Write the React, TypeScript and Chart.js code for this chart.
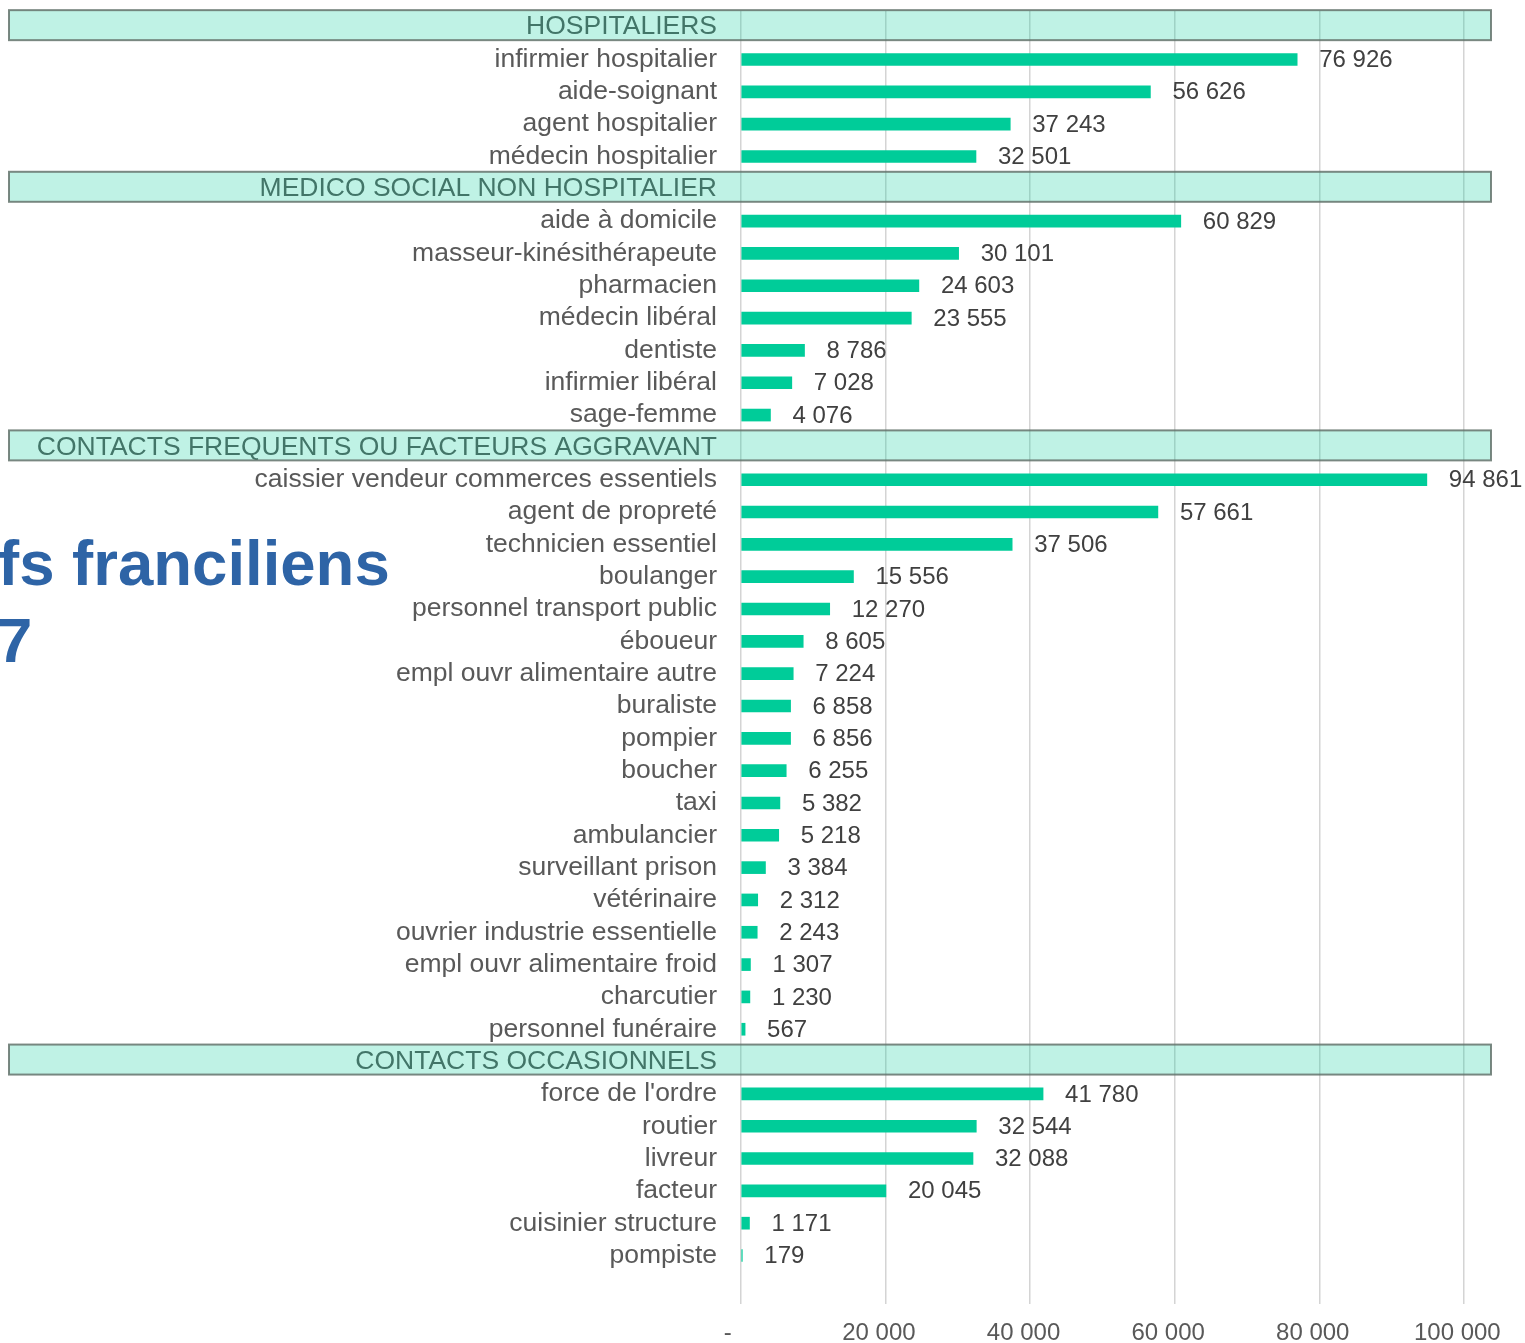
import React, { useEffect, useRef } from "react";
import { Chart, registerables } from "chart.js";

Chart.register(...registerables);

// ---------- data ----------
const headerLabels = [
  "HOSPITALIERS",
  "MEDICO SOCIAL NON HOSPITALIER",
  "CONTACTS FREQUENTS OU FACTEURS AGGRAVANT",
  "CONTACTS OCCASIONNELS",
];

const hospitalLabels = [
  "infirmier hospitalier",
  "aide-soignant",
  "agent hospitalier",
  "médecin hospitalier",
];
const hospitalValues = [76926, 56626, 37243, 32501];

const medicoLabels = [
  "aide à domicile",
  "masseur-kinésithérapeute",
  "pharmacien",
  "médecin libéral",
  "dentiste",
  "infirmier libéral",
  "sage-femme",
];
const medicoValues = [60829, 30101, 24603, 23555, 8786, 7028, 4076];

const frequentLabels = [
  "caissier vendeur commerces essentiels",
  "agent de propreté",
  "technicien essentiel",
  "boulanger",
  "personnel transport public",
  "éboueur",
  "empl ouvr alimentaire autre",
  "buraliste",
  "pompier",
  "boucher",
  "taxi",
  "ambulancier",
  "surveillant prison",
  "vétérinaire",
  "ouvrier industrie essentielle",
  "empl ouvr alimentaire froid",
  "charcutier",
  "personnel funéraire",
];
const frequentValues = [
  94861, 57661, 37506, 15556, 12270, 8605, 7224, 6858, 6856, 6255, 5382, 5218,
  3384, 2312, 2243, 1307, 1230, 567,
];

const occasionalLabels = [
  "force de l'ordre",
  "routier",
  "livreur",
  "facteur",
  "cuisinier structure",
  "pompiste",
];
const occasionalValues = [41780, 32544, 32088, 20045, 1171, 179];

const xTickMin = 0;
const xTickMax = 100000;
const xTickStep = 20000;

const titleLines = ["fs franciliens", "7"];

// ---------- build table ----------
const groups = [
  { header: headerLabels[0], labels: hospitalLabels, values: hospitalValues },
  { header: headerLabels[1], labels: medicoLabels, values: medicoValues },
  { header: headerLabels[2], labels: frequentLabels, values: frequentValues },
  { header: headerLabels[3], labels: occasionalLabels, values: occasionalValues },
];

const categories: string[] = [];
const values: (number | null)[] = [];
const headerIndex: number[] = [];
groups.forEach((g) => {
  headerIndex.push(categories.length);
  categories.push(g.header);
  values.push(null);
  g.labels.forEach((l, i) => {
    categories.push(l);
    values.push(g.values[i]);
  });
});
categories.push("");
values.push(null);

const fmt = (v: number) =>
  Math.round(v)
    .toString()
    .replace(/\B(?=(\d{3})+(?!\d))/g, " ");

const FONT = "'Liberation Sans', Arial, sans-serif";

const zeroPad = (axis: any) => {
  axis.paddingTop = 0;
  axis.paddingBottom = 0;
  axis.paddingLeft = 0;
  axis.paddingRight = 0;
};

const overlayPlugin = {
  id: "overlayPlugin",
  afterDatasetsDraw(chart: any) {
    const ctx = chart.ctx;
    const meta = chart.getDatasetMeta(0);
    ctx.save();
    ctx.font = `24px ${FONT}`;
    ctx.fillStyle = "#404040";
    ctx.textAlign = "left";
    ctx.textBaseline = "middle";
    values.forEach((v, i) => {
      if (v === null) return;
      const bar = meta.data[i];
      ctx.fillText(fmt(v), bar.x + 22, bar.y + 1);
    });
    ctx.restore();
  },
  afterDraw(chart: any) {
    const ctx = chart.ctx;
    const yScale = chart.scales.y;
    ctx.save();
    headerIndex.forEach((idx) => {
      const cy = yScale.getPixelForValue(idx) - 2;
      const top = cy - 15;
      ctx.fillStyle = "rgba(0,204,153,0.25)";
      ctx.fillRect(9, top, 1482, 30);
      ctx.strokeStyle = "rgba(100,115,108,0.85)";
      ctx.lineWidth = 2;
      ctx.strokeRect(9, top, 1482, 30);
    });
    ctx.font = `bold 63.5px ${FONT}`;
    ctx.fillStyle = "#2E64A6";
    ctx.textAlign = "left";
    ctx.textBaseline = "alphabetic";
    ctx.fillText(titleLines[0], -2, 585);
    ctx.fillText(titleLines[1], -3, 662);
    ctx.restore();
  },
};

export default function App() {
  const canvasRef = useRef<HTMLCanvasElement | null>(null);

  useEffect(() => {
    if (!canvasRef.current) return;
    const chart = new Chart(canvasRef.current, {
      type: "bar",
      data: {
        labels: categories,
        datasets: [
          {
            data: values as any,
            backgroundColor: "#00CC99",
            borderWidth: 0,
            barThickness: 12,
          },
        ],
      },
      options: {
        indexAxis: "y",
        responsive: false,
        animation: false,
        devicePixelRatio: 1,
        layout: {
          autoPadding: false,
          padding: { top: 11, right: 61, left: 0, bottom: 0 },
        },
        plugins: {
          legend: { display: false },
          tooltip: { enabled: false },
          title: { display: false },
        },
        scales: {
          x: {
            type: "linear",
            position: "bottom",
            min: xTickMin,
            max: xTickMax,
            afterFit: (axis: any) => {
              axis.height = 39;
              zeroPad(axis);
            },
            grid: {
              color: "#d4d4d4",
              lineWidth: 1.5,
              drawTicks: false,
            },
            border: { display: false },
            ticks: {
              stepSize: xTickStep,
              padding: 15,
              color: "#595959",
              font: { size: 24, family: FONT },
              callback: (v: any) =>
                Number(v) === 0
                  ? "-\u00a0\u00a0\u00a0\u00a0"
                  : fmt(Number(v)) + "\u00a0\u00a0",
            },
          },
          y: {
            type: "category",
            position: "left",
            afterFit: (axis: any) => {
              axis.width = 741;
              zeroPad(axis);
            },
            grid: { display: false, drawTicks: false },
            border: { display: false },
            ticks: {
              autoSkip: false,
              padding: 24,
              color: "#595959",
              font: { size: 26.5, family: FONT },
            },
          },
        },
      },
      plugins: [overlayPlugin],
    });
    return () => chart.destroy();
  }, []);

  return (
    <div
      style={{
        position: "fixed",
        left: 0,
        top: 0,
        width: 1525,
        height: 1343,
        background: "#ffffff",
        overflow: "hidden",
      }}
    >
      <canvas
        ref={canvasRef}
        width={1525}
        height={1343}
        style={{ display: "block", width: 1525, height: 1343 }}
      />
    </div>
  );
}
